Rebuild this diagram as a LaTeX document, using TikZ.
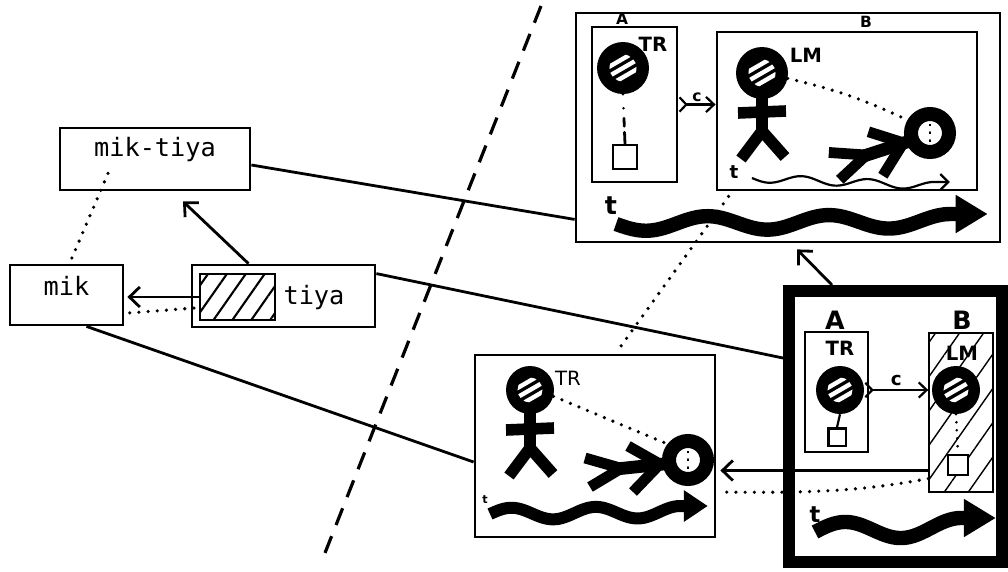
\documentclass[tikz,border=0pt]{standalone}
\usepackage{fontspec}
\newfontfamily\typefont{DejaVu Sans Mono}
\newfontfamily\penfont{DejaVu Sans}
\usetikzlibrary{fit,calc,arrows.meta,patterns.meta}

% wavy time arrow: style, start x/y, wave end x/y, amplitude, periods, straight tail
\newcommand\wavyarrow[8]{%
  \draw[#1] plot[domain=0:1, samples=70, smooth, variable=\u]
    ({#2+(#4-#2)*\u},{#3+(#5-#3)*\u+(#6)*sin(360*#7*\u)}) -- ++(#8,0);}

\tikzset{
  frame/.style={draw, line width=0.7mm, inner sep=0pt},
  heavyframe/.style={draw, line width=3mm, inner sep=0pt},
  link/.style={line width=0.7mm},
  dots/.style={line width=0.9mm, line cap=round, dash pattern=on 0pt off 2.3mm},
  dashdot/.style={line width=0.7mm, line cap=round,
    dash pattern=on 0pt off 3.5mm on 0pt off 2.5mm on 2mm off 1.5mm on 10mm},
  divider/.style={line width=0.8mm, dash pattern=on 4.5mm off 3mm},
  barb/.style={line width=0.7mm, -{Straight Barb[length=2.6mm, width=5mm]}},
  carrow/.style={line width=0.55mm,
    {Straight Barb[reversed, length=1.7mm, width=3.6mm]}-{Straight Barb[length=2mm, width=3.8mm]}},
  typed/.style={font=\typefont\fontsize{18}{20}\selectfont},
  pen/.style={font=\penfont\bfseries\fontsize{#1}{#1}\selectfont, inner sep=0pt},
  box/.style={draw, line width=0.55mm, inner sep=0pt, fill=white, minimum size=#1},
  stripehead/.style={circle, fill=black, minimum size=#1*0.5mm, inner sep=0pt,
    path picture={
      \begin{scope}[shift={(path picture bounding box.center)}]
        \clip (0,0) circle ({#1*0.52});
        \foreach \o in {-8,0,8}
          \draw[white, line width=1.1mm]
            ({0.5*\o-0.866*16},{0.866*\o+0.5*16}) -- ({0.5*\o+0.866*16},{0.866*\o-0.5*16});
      \end{scope}}},
  ringhead/.style={circle, draw=black, line width=3.5mm, fill=white, minimum size=9.5mm, inner sep=0pt,
    path picture={
      \begin{scope}[shift={(path picture bounding box.center)}]
        \draw[line width=0.5mm] (0,-9) -- (0,9);
        \fill (-4.5,-7) -- (4.5,-7) -- (0,-1) -- cycle;
        \fill (-4.5,1) -- (4.5,1) -- (0,7) -- cycle;
      \end{scope}}},
  pics/stander/.style={code={
    \draw[line width=3mm] (0,15) -- (0,63);
    \draw[line width=2.9mm] (-24,40) -- (24,38);
    \draw[line width=2.9mm] (0,58) -- (-21,86);
    \draw[line width=2.9mm] (0,58) -- (23,84);
  }},
  pics/lier/.style={code={
    \draw[line width=3.2mm] (-15,3) -- (-72,9);
    \draw[line width=2.7mm] (-30,3) -- (-60,-14);
    \draw[line width=2.7mm] (-30,6) -- (-55,32);
    \draw[line width=2.7mm] (-68,8) -- (-103,-2);
    \draw[line width=2.7mm] (-68,9) -- (-98,27);
  }},
}

\begin{document}
\begin{tikzpicture}[x=0.25mm, y=-0.25mm]
\useasboundingbox (0,0) rectangle (1008,571);

% dividing line
\coordinate (cutTop) at (541,6);
\coordinate (cutBot) at (323,558);
\draw[divider] (cutTop) -- (cutBot);

% ---------- word forms ----------
\node[frame, typed, fit={(60,128) (250,190)}] (miktiya) {mik-tiya};
\node[frame, typed, fit={(10,265) (123,325)}] (mik) {mik};
\node[frame, fit={(192,265) (375,327)}] (tiya) {};
\node[typed] (tiyaword) at (314,298) {tiya};
\node[frame, pattern={Lines[angle=55, distance=11pt, line width=1.5pt]}, fit={(200,274) (275,320)}] (stem) {};

\draw[barb] ($(tiya.north)+(-35,0)$) -- ($(miktiya.south)+(28,10)$);
\draw[barb] (stem.west) -- ($(stem.west -| mik.east)+(3,0)$);
\draw[dots] ($(stem.south west)+(-5,-13)$) -- ($(mik.east)+(4,18)$);
\draw[dots] ($(miktiya.south)+(-47,-18)$) -- ($(mik.north)+(3,0)$);

% ---------- scene 1: composite ----------
\node[frame, fit={(576,13) (1000,242)}] (scene1) {};
\node[frame, fit={(592,27) (677,182)}] (a1) {};
\node[frame, fit={(717,32) (977,190)}] (b1) {};
\node[pen=11] (a1lab) at (622,19) {A};
\node[pen=11] (b1lab) at (866,22) {B};

\node[stripehead=26] (tr1) at (623,68) {};
\node[pen=14] (tr1lab) at (653,44) {TR};
\node[box=6mm] (sq1) at (625,157) {};
\draw[dashdot] (tr1.south) -- (sq1.north);

\pic at (762,73) {stander};
\node[stripehead=26] (lm1) at (762,73) {};
\node[pen=14] (lm1lab) at (806,55) {LM};
\pic[rotate=12] at (930,133) {lier};
\node[ringhead] (ring1) at (930,133) {};
\draw[dots] (lm1.-12) to[bend left=6] (ring1.150);

\draw[carrow] (a1.east) -- (a1.east -| b1.west) node[midway, above=1pt, pen=11] {c};

\node[pen=13] at (734,172) {t};
\wavyarrow{line width=0.55mm, -{Straight Barb[length=2mm, width=4mm]}}{752}{178}{935}{186}{4}{2.75}{15}
\node[pen=18] at (611,206) {t};
\wavyarrow{line width=3.6mm, -{Triangle[length=8mm, width=9mm]}}{616}{224}{950}{221}{7}{2.75}{38}

% ---------- scene 2: schema ----------
\node[heavyframe, fit={(789,291) (1002,562)}] (scene2) {};
\node[frame, fit={(805,332) (868,452)}] (a2) {};
\node[frame, pattern={Lines[angle=55, distance=14pt, line width=1pt]}, fit={(929,333) (993,492)}] (b2) {};
\node[pen=18] at (835,320) {A};
\node[pen=18] at (962,320) {B};
\node[pen=14] at (840,348) {TR};
\node[pen=14] at (962,353) {LM};
\node[stripehead=24] (tr2) at (840,390) {};
\node[stripehead=24] (lm2) at (956,390) {};
\node[box=4.3mm] (sq2) at (837,437) {};
\node[box=5mm] (sq3) at (958,465) {};
\draw[line width=0.55mm] (tr2.south) -- (sq2.north);
\draw[dots, line width=0.7mm, dash pattern=on 0pt off 2mm] (lm2.south) -- (sq3.north);
\draw[carrow] (tr2.east) -- (tr2.east -| b2.west) node[midway, above=2pt, pen=13] {c};
\node[pen=16] at (815,515) {t};
\wavyarrow{line width=3.6mm, -{Triangle[length=8mm, width=9mm]}}{815}{532}{960}{527}{-9}{1.25}{36}

% ---------- scene 3: instance ----------
\node[frame, fit={(475,355) (715,537)}] (scene3) {};
\pic at (530,390) {stander};
\node[stripehead=24] (tr3) at (530,390) {};
\node[font=\penfont\fontsize{14}{14}\selectfont, inner sep=0pt] at (568,378) {TR};
\pic at (688,460) {lier};
\node[ringhead] (ring2) at (688,460) {};
\draw[dots] (tr3.-15) -- (ring2.142);
\node[pen=8] at (485,500) {t};
\wavyarrow{line width=3mm, -{Triangle[length=6mm, width=7.5mm]}}{490}{514}{680}{512}{-6}{2.25}{28}

% ---------- links between forms and scenes ----------
\draw[link] ($(miktiya.east)+(0,6)$) -- ($(scene1.south west)+(0,-24)$);
\draw[link] ($(tiya.north east)+(0,10)$) -- ($(scene2.north west)+(0,73)$);
\draw[link] ($(mik.south)+(20,0)$) -- ($(scene3.west)+(0,16)$);

\draw[barb] ($(scene2.north west)+(49,0)$) -- ($(scene1.south)+(9,6)$);
\draw[dots] ($(b1.south west)+(13,5)$) -- ($(scene3.north)+(22,-2)$);

\coordinate (b2out) at ($(b2.west)+(0,58)$);
\draw[barb] (b2out) -- ($(b2out -| scene3.east)+(4,0)$);
\draw[dots] ($(b2.west)+(0,66)$) .. controls (860,492) and (800,493) .. ($(scene3.east)+(4,46)$);
\end{tikzpicture}
\end{document}
